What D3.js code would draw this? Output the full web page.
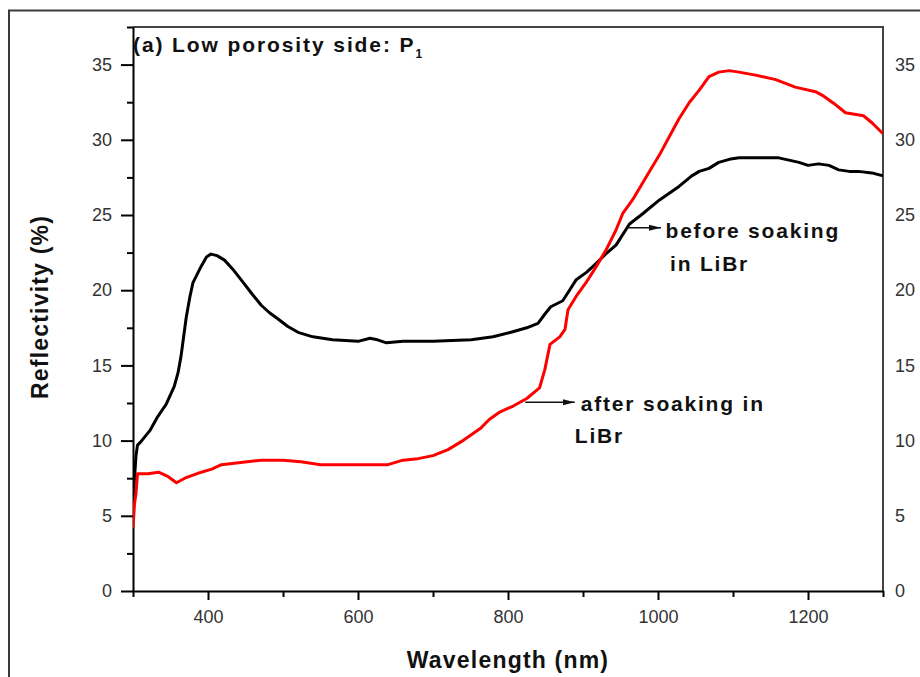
<!DOCTYPE html>
<meta charset="utf-8">
<style>
body { margin: 0; background: #fff; }
text { font-family: "Liberation Sans", Arial, sans-serif; }
.tick text { font-size: 18px; fill: #333; }
.curve { fill: none; stroke-width: 3px; stroke-linejoin: round; }
.lbl { font-weight: bold; font-size: 23px; fill: #111; letter-spacing: 1.2px; }
.note { font-weight: bold; font-size: 21px; fill: #111; letter-spacing: 1.8px; }
</style>
<body>
<script src="https://d3js.org/d3.v7.min.js"></script>
<script>

// data
var beforeWl = [300,302,304,306,310,323,333,344,355,360,364,371,376,380,391,398,404,412,422,433,444,458,471,482,493,506,520,540,566,600,616,626,638,660,700,751,780,804,825,840,849,857,873,882,891,905,918,930,944,962,980,1002,1028,1045,1055,1068,1081,1095,1108,1130,1161,1188,1200,1214,1228,1241,1255,1267,1285,1300];
var beforeR  = [5.5,7.5,9.0,9.7,9.9,10.7,11.6,12.4,13.6,14.5,15.6,18.2,19.6,20.5,21.6,22.2,22.4,22.3,22.0,21.4,20.7,19.8,19.0,18.5,18.1,17.6,17.2,16.9,16.7,16.6,16.8,16.7,16.5,16.6,16.6,16.7,16.9,17.2,17.5,17.8,18.4,18.9,19.3,20.0,20.7,21.2,21.8,22.4,23.0,24.4,25.1,26.0,26.9,27.6,27.9,28.1,28.5,28.7,28.8,28.8,28.8,28.5,28.3,28.4,28.3,28.0,27.9,27.9,27.8,27.6];

var afterWl = [300,302,304,306,320,334,347,358,369,380,391,405,418,435,471,500,524,550,600,640,660,680,700,720,740,763,775,789,807,825,842,849,856,869,876,880,891,904,918,931,944,953,966,985,1002,1015,1028,1042,1055,1068,1081,1095,1108,1130,1157,1183,1210,1221,1235,1250,1262,1274,1286,1298,1300];
var afterR  = [4.2,5.8,6.5,7.8,7.8,7.9,7.6,7.2,7.5,7.7,7.9,8.1,8.4,8.5,8.7,8.7,8.6,8.4,8.4,8.4,8.7,8.8,9.0,9.4,10.0,10.8,11.4,11.9,12.3,12.8,13.5,14.7,16.4,16.9,17.4,18.7,19.6,20.5,21.6,22.7,24.0,25.1,26.0,27.6,29.0,30.2,31.4,32.5,33.3,34.2,34.5,34.6,34.5,34.3,34.0,33.5,33.2,32.9,32.4,31.8,31.7,31.6,31.1,30.5,30.4];

var xMajor = [400,600,800,1000,1200];
var xMinor = [300,500,700,900,1100,1300];
var yMajor = [0,5,10,15,20,25,30,35];
var yMinor = [2.5,7.5,12.5,17.5,22.5,27.5,32.5,37.5];

var W = 920, H = 677;
var margin = {top: 27, right: 37, bottom: 86, left: 133},
    width = W - margin.left - margin.right,
    height = H - margin.top - margin.bottom;

var svgRoot = d3.select("body").append("svg")
    .attr("width", W)
    .attr("height", H);

// outer frame of the figure
svgRoot.append("path")
    .attr("d", "M9,690 V10.5 H940")
    .attr("fill", "none")
    .attr("stroke", "#3a3a3a")
    .attr("stroke-width", 2);

var svg = svgRoot.append("g")
    .attr("transform", "translate(" + margin.left + "," + margin.top + ")");

var x = d3.scaleLinear().domain([300, 1300]).range([0, width]);
var y = d3.scaleLinear().domain([0, 37.5]).range([height, 0]);

svg.append("clipPath").attr("id", "clip")
  .append("rect").attr("width", width).attr("height", height);

// top + right frame lines
svg.append("path")
    .attr("d", "M0,0 H" + width + " V" + height)
    .attr("fill", "none")
    .attr("stroke", "#444")
    .attr("stroke-width", 2);

// minor ticks
svg.append("g")
    .attr("transform", "translate(0," + height + ")")
    .call(d3.axisBottom(x).tickValues(xMinor).tickSize(6).tickFormat(""))
    .call(function(g) { g.select(".domain").remove(); });
svg.append("g")
    .call(d3.axisLeft(y).tickValues(yMinor).tickSize(6).tickFormat(""))
    .call(function(g) { g.select(".domain").remove(); });

// x axis
svg.append("g")
    .attr("transform", "translate(0," + height + ")")
    .call(d3.axisBottom(x).tickValues(xMajor).tickFormat(d3.format("d"))
      .tickSize(9).tickSizeOuter(0).tickPadding(10));

// y axis left
svg.append("g")
    .call(d3.axisLeft(y).tickValues(yMajor).tickSize(12).tickSizeOuter(0).tickPadding(9));

// y axis right, labels only
svg.append("g")
    .attr("transform", "translate(" + width + ",0)")
    .call(d3.axisRight(y).tickValues(yMajor).tickSize(0).tickPadding(12))
    .call(function(g) { g.select(".domain").remove(); });

svg.selectAll(".domain").attr("stroke-width", 2);
svg.selectAll(".tick line").attr("stroke-width", 2);

// curves
var line = d3.line()
    .x(function(d) { return x(d[0]); })
    .y(function(d) { return y(d[1]); });

var beforeData = beforeWl.map(function(w, i) { return [w, beforeR[i]]; });
var afterData = afterWl.map(function(w, i) { return [w, afterR[i]]; });

var curves = svg.append("g").attr("clip-path", "url(#clip)");
curves.append("path").datum(beforeData)
    .attr("class", "curve").attr("stroke", "#000").attr("d", line);
curves.append("path").datum(afterData)
    .attr("class", "curve").attr("stroke", "#ff0000").attr("d", line);

// axis titles
svg.append("text")
    .attr("class", "lbl")
    .attr("x", width / 2)
    .attr("y", height + 77)
    .attr("text-anchor", "middle")
    .text("Wavelength (nm)");

svg.append("text")
    .attr("class", "lbl")
    .attr("transform", "rotate(-90)")
    .attr("x", -height / 2 + 2)
    .attr("y", -85)
    .attr("text-anchor", "middle")
    .text("Reflectivity (%)");

// panel title
var title = svg.append("text")
    .attr("class", "note")
    .attr("x", 0)
    .attr("y", 25)
    .style("font-size", "21px")
    .style("letter-spacing", "1.9px");
title.append("tspan").text("(a) Low porosity side: P");
title.append("tspan").attr("dy", 6).style("font-size", "12px").text("1");

// arrows + notes
var defs = svgRoot.append("defs");
defs.append("marker")
    .attr("id", "arr")
    .attr("viewBox", "0 0 12 8")
    .attr("refX", 12).attr("refY", 4)
    .attr("markerWidth", 12).attr("markerHeight", 8)
    .attr("markerUnits", "userSpaceOnUse")
    .attr("orient", "auto")
  .append("path").attr("d", "M0,1 L12,4 L0,7 Z").attr("fill", "#111");

function note(x0, x1, ay, lines) {
  svg.append("line")
      .attr("x1", x(x0)).attr("x2", x(x1))
      .attr("y1", y(ay)).attr("y2", y(ay))
      .attr("stroke", "#111").attr("stroke-width", 1.5)
      .attr("marker-end", "url(#arr)");
  lines.forEach(function(l) {
    svg.append("text").attr("class", "note")
        .attr("x", x(l[0])).attr("y", y(l[1]))
        .text(l[2]);
  });
}

note(958, 1004, 24.15, [[1010, 23.45, "before soaking"], [1016, 21.3, "in LiBr"]]);
note(823, 889, 12.55, [[897, 12.0, "after soaking in"], [889, 9.85, "LiBr"]]);

</script>
</body>
